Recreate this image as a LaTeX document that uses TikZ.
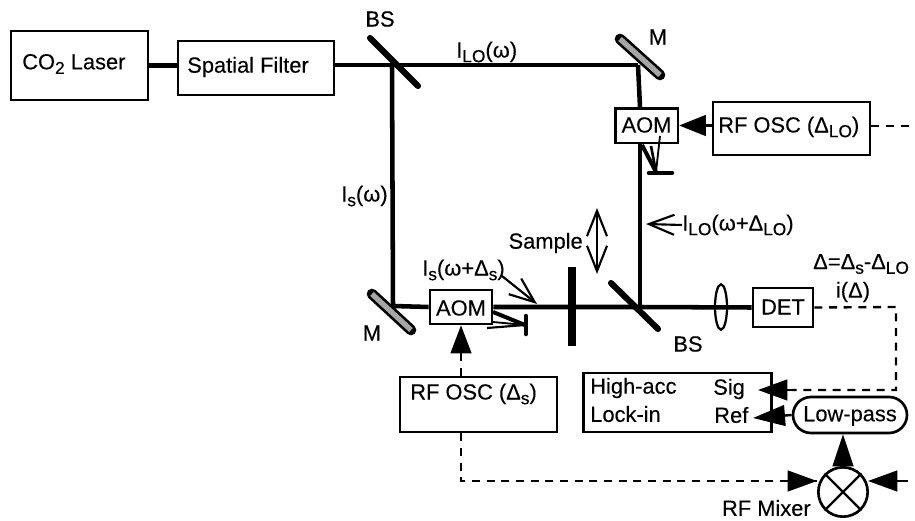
\documentclass[tikz,border=0pt]{standalone}
\usepackage{fontspec}
\setmainfont{Liberation Sans}[BoldFont={Liberation Sans},BoldFeatures={FakeBold=0.25}]
\usetikzlibrary{arrows.meta,shapes.geometric}
\newcommand{\lowsub}[1]{\raisebox{-3.5pt}{\fontsize{13}{13}\selectfont #1}}
\tikzset{
  x=0.75pt,y=-0.75pt,
  box/.style={draw=black,line width=2pt,inner sep=0pt,fill=white},
  txt/.style={inner sep=0pt,font=\fontsize{16.4}{19}\selectfont\bfseries,text=black},
  beam/.style={line width=3.4pt,draw=black},
  optic/.style={line width=4.6pt,line cap=round,draw=black},
  dashline/.style={line width=1.8pt,draw=black,dash pattern=on 6pt off 5pt},
  solidtip/.style={-{Triangle[length=#1,width=15.5pt]},line width=1.8pt,draw=black},
  solidtip/.default=20pt,
  dashtip/.style={-{Triangle[length=#1,width=15.5pt]},line width=1.8pt,draw=black,dash pattern=on 6pt off 5pt},
  dashtip/.default=21pt,
  barb/.style={-{Straight Barb[length=19pt,width=15pt]},line width=1.6pt,draw=black}
}
\begin{document}
\begin{tikzpicture}
\useasboundingbox (0,0) rectangle (915,521);
\fill[white] (0,0) rectangle (915,521);
% coordinates along the beam
\coordinate (bsU) at (392,65);
\coordinate (mU) at (638,65);
\coordinate (mL) at (393,306);
\coordinate (bsL) at (640,307);
\coordinate (stopLOc) at (656,172);
\coordinate (stopSc) at (525,325);
\coordinate (corner1) at (896,307);
\coordinate (corner2) at (896,390);
\coordinate (corner3) at (461,481);
\coordinate (rfLOout) at (915,126);
\coordinate (mixIn) at (908,481);
% boxes
\node[box,minimum width=102.75pt,minimum height=51.75pt] (laser) at (79.5,65.5) {};
\node[box,minimum width=117pt,minimum height=40.5pt] (filter) at (256,68) {};
\node[box,minimum width=47pt,minimum height=26pt] (aomLO) at (646.5,125.5) {};
\node[box,minimum width=117.75pt,minimum height=39.75pt] (rfLO) at (791.5,128.5) {};
\node[box,minimum width=46.5pt,minimum height=25.5pt] (aomS) at (461,307) {};
\node[box,minimum width=117.75pt,minimum height=41.25pt] (rfS) at (478.5,404.5) {};
\node[box,minimum width=45pt,minimum height=29.25pt] (det) at (783,307.5) {};
\node[box,minimum width=141pt,minimum height=44.25pt] (lockin) at (677.5,402.5) {};
\node[box,minimum width=85.5pt,minimum height=27pt,rounded corners=13.5pt] (lowpass) at (850,415) {};
\node[draw=black,line width=2pt,circle,minimum size=37pt,inner sep=0pt] (mixer) at (843,492) {};
\node[draw=black,line width=1.7pt,ellipse,minimum width=9pt,minimum height=34pt,inner sep=0pt] (lens) at (721,307) {};
% beams
\draw[beam] (laser.east) -- (laser.east -| filter.west);
\draw[beam] (filter.east |- bsU) -- (bsU) -- (mU);
\draw[beam] (bsU) -- (mL);
\draw[beam] (mL) -- (aomS.west);
\draw[beam] (mU) -- (aomLO.north -| bsL);
\draw[beam] (aomLO.south -| bsL) -- (bsL);
\draw[beam] (aomS.east) -- (bsL) -- (det.west);
% optics
\draw[optic] (370,38) -- (418,86);
\draw[optic] (611,283) -- (658,329);
\draw[line width=6.6pt,draw=black] (572,267) -- (572,346);
\draw[line width=8pt,line cap=round,draw=black] (372,294) -- (411,330);
\draw[line width=4pt,draw=black!35] (372,294) -- (411,330);
\draw[line width=8pt,line cap=round,draw=black] (620,39) -- (660,75);
\draw[line width=4pt,draw=black!35] (620,39) -- (660,75);
% beam stops
\draw[optic,line width=3.4pt] (649,173) -- (672,173);
\draw[optic,line width=3.4pt] (526,316) -- (526,334);
\draw[line width=3pt] (642,145) -- (stopLOc);
\draw[line width=1.4pt] (660,136) -- (stopLOc);
\draw[line width=2pt] (651,146) -- (stopLOc);
\draw[line width=3pt] (493,312) -- (stopSc);
\draw[line width=1.6pt] (487,328) -- (stopSc);
\draw[line width=1.4pt] (493,322) -- (stopSc);
% RF connections
\draw[solidtip] (rfLO.west |- aomLO.east) -- (aomLO.east);
\draw[dashline] (rfLO.east |- rfLOout) -- (rfLOout);
\draw[dashtip=21pt] (rfS.north -| aomS.south) -- (aomS.south);
\draw[dashline] (rfS.south -| corner3) -- (corner3) -- (corner3 -| mixer.west);
\draw[solidtip=22pt] (788,481) -- (817,481);
\draw[dashline] (det.east) -- (corner1) -- (corner2) -- (792,390);
\draw[solidtip=22pt] (794,390) -- (758,390);
\draw[solidtip=24pt] (lowpass.west) -- (753,418);
\draw[solidtip=24pt] (mixer.north) -- (lowpass.south -| mixer.north);
\draw[solidtip=22pt] (mixIn) -- (868,481);
\draw[line width=1.8pt] (mixer.45) -- (mixer.225);
\draw[line width=1.8pt] (mixer.135) -- (mixer.315);
% pointers
\node[txt,anchor=west] (lblLOs) at (682,225) {I\lowsub{LO}(ω+Δ\lowsub{LO})};
\node[txt,anchor=east] (lblSmp) at (583,243) {Sample};
\node[txt,anchor=west] (lblSs) at (422,270) {I\lowsub{s}(ω+Δ\lowsub{s})};
\coordinate (ptLO) at (646,224);
\coordinate (ptS) at (537,304);
\coordinate (smpA) at (597,208);
\coordinate (smpB) at (597,274);
\draw[barb] (lblLOs.west) -- (ptLO);
\draw[barb] (502,276) -- (ptS);
\draw[barb,{Straight Barb[length=19pt,width=15pt]}-{Straight Barb[length=19pt,width=15pt]}] (smpA) -- (smpB);
% labels
\node[txt,anchor=west] at (22,64) {CO\lowsub{2} Laser};
\node[txt,anchor=west] at (187,67) {Spatial Filter};
\node[txt] at (646.5,125) {AOM};
\node[txt,anchor=west] at (718,127) {RF OSC (Δ\lowsub{LO})};
\node[txt] at (461,308) {AOM};
\node[txt,anchor=west] at (410,394) {RF OSC (Δ\lowsub{s})};
\node[txt] at (783,307) {DET};
\node[txt,anchor=west] at (590,388) {High-acc};
\node[txt,anchor=west] at (590,414) {Lock-in};
\node[txt,anchor=west] at (713,389) {Sig};
\node[txt,anchor=west] at (714,415) {Ref};
\node[txt] at (850,416) {Low-pass};
\node[txt] at (380,19) {BS};
\node[txt] at (688,344) {BS};
\node[txt] at (658,37) {M};
\node[txt] at (372,333) {M};
\node[txt,anchor=west] at (456,52) {I\lowsub{LO}(ω)};
\node[txt,anchor=west] at (341,196) {I\lowsub{s}(ω)};
\node[txt,anchor=west] at (813,264) {Δ=Δ\lowsub{s}-Δ\lowsub{LO}};
\node[txt] at (853,292) {i(Δ)};
\node[txt,anchor=east] at (811,508) {RF Mixer};
\end{tikzpicture}
\end{document}
